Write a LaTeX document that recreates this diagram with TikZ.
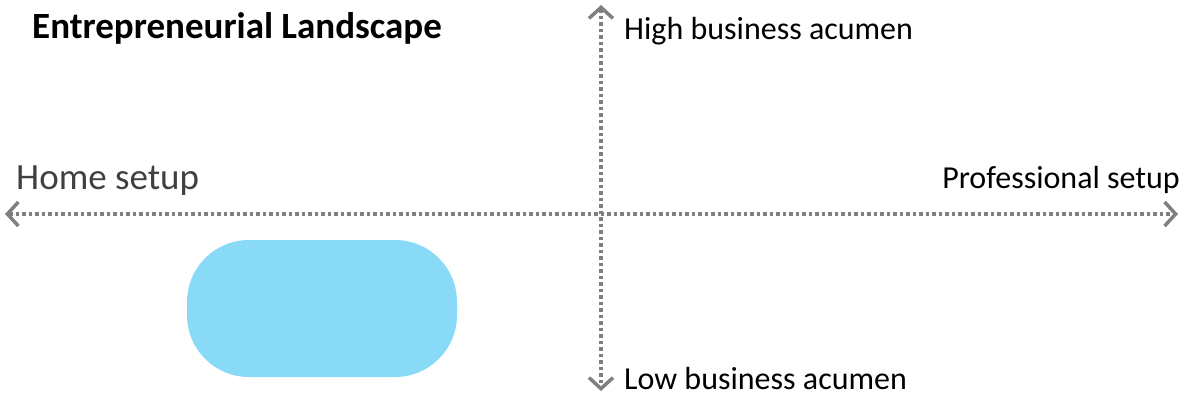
\documentclass[tikz,border=0pt]{standalone}
\usepackage{fontspec}
\setmainfont{Carlito}
\usetikzlibrary{arrows.meta}
\definecolor{axisgray}{RGB}{127,127,127}
\definecolor{pillblue}{RGB}{137,218,247}
\definecolor{homegray}{RGB}{64,64,64}

\begin{document}
\begin{tikzpicture}[x=1pt, y=-1pt,
    axis/.style={axisgray, line width=3.5pt, dash pattern=on 3.5pt off 3pt,
      {Straight Barb[length=11pt,width=24pt]}-{Straight Barb[length=11pt,width=24pt]}},
    lbl/.style={inner sep=0pt, anchor=base west, font=\fontsize{32}{38}\selectfont}]
    \useasboundingbox (0, 0) rectangle (1181, 397);

    % ends of the two axes
    \coordinate (west) at (5, 214);
    \coordinate (east) at (1178, 214);
    \coordinate (north) at (601, 5);
    \coordinate (south) at (601, 391);

    \draw[axis] (west) -- (east);
    \draw[axis] (north) -- (south);

    \node[lbl, font=\bfseries\fontsize{37}{44}\selectfont] (title) at (32, 38) {Entrepreneurial Landscape};
    \node[lbl] (high) at (624, 39) {High business acumen};
    \node[lbl] (low) at (624, 389) {Low business acumen};
    \node[lbl, homegray, font=\fontsize{37}{44}\selectfont] (home) at (16, 189) {Home setup};
    \node[lbl, anchor=base east] (prof) at (1180, 188) {Professional setup};

    \node[fill=pillblue, rounded corners=62pt, minimum width=270pt,
      minimum height=137pt, inner sep=0pt] (pill) at (322, 308.5) {};
  \end{tikzpicture}
\end{document}
